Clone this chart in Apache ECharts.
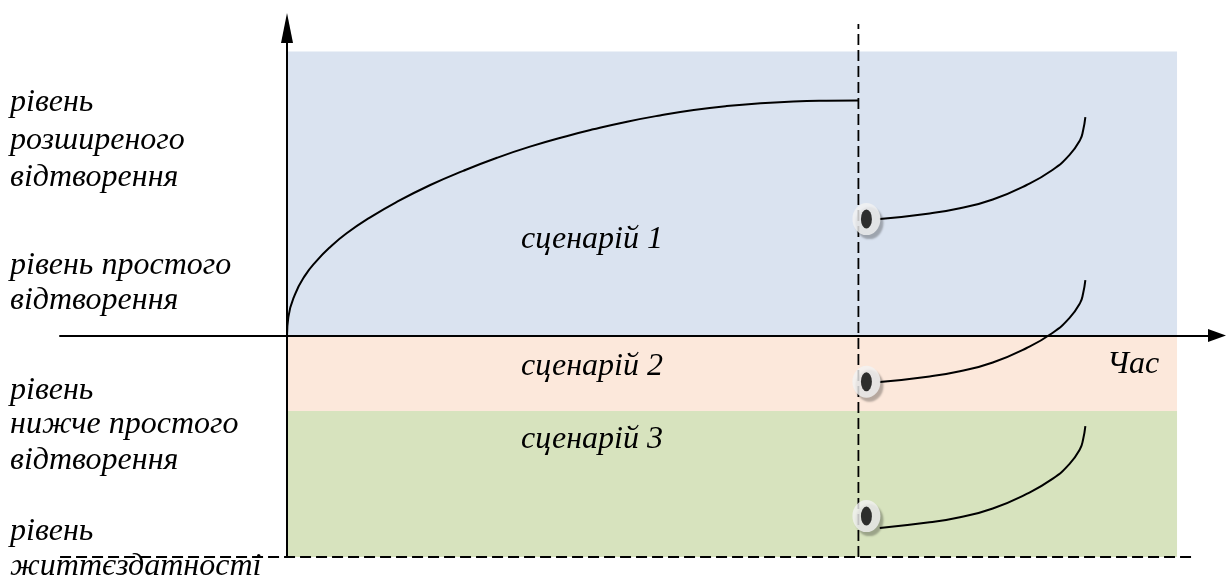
<!DOCTYPE html>
<html>
<head>
<meta charset="utf-8">
<script src="https://cdn.jsdelivr.net/npm/echarts@6/dist/echarts.min.js"></script>
<style>
  html, body { margin: 0; padding: 0; background: #fff; }
  #chart { width: 1226px; height: 581px; }
</style>
</head>
<body>
<div id="chart"></div>
<script>
// рівні (вісь Y) та час (вісь X), умовні одиниці
const bandNames = ['сценарій 1', 'сценарій 2', 'сценарій 3'];
const bandTop = [100, 0, -26.6];
const bandBottom = [0, -26.6, -78];
const bandColors = ['#DAE3F0', '#FCE8DB', '#D7E3BE'];
const bandEnd = 100;

const cutoffTime = 64.2;      // вертикальна пунктирна лінія
const floorLevel = -78;       // рівень життєздатності

// крива розвитку до моменту розриву
const mainTime = [0, 0.15, 0.9, 2.0, 3.3, 4.8, 6.7, 9.3, 12.3, 16.1, 19.8, 23.6, 27.3, 31.4,
  34.4, 38.2, 41.9, 45.7, 49.4, 53.2, 56.9, 60.6, 64.2];
const mainLevel = [0, 6.5, 14.5, 21.0, 26.2, 31.0, 36.0, 41.5, 47.0, 53.0, 58.0, 62.6, 66.5, 70.2,
  72.6, 75.3, 77.5, 79.4, 80.8, 81.8, 82.4, 82.7, 82.8];

// криві сценаріїв після розриву
const scenTime = [66.6, 72.2, 75.6, 79.3, 83.1, 86.0, 87.9, 89.1, 89.45, 89.7];
const scen1Level = [41.0, 43.0, 44.8, 47.9, 53.0, 58.3, 63.5, 68.8, 72.3, 76.9];
const scen2Level = [-16.4, -14.4, -12.6, -9.5, -4.4, 0.9, 6.1, 11.4, 14.9, 19.5];
const scen3Level = [-67.8, -65.8, -64.0, -60.9, -55.8, -50.5, -45.3, -40.0, -36.5, -31.9];

// точки розриву
const breakTime = [65.1, 65.1, 65.1];
const breakLevel = [41.0, -16.3, -63.6];

const leftLabels = [
  ['рівень', 103], ['розширеного', 141], ['відтворення', 178],
  ['рівень простого', 266], ['відтворення', 301],
  ['рівень', 391], ['нижче простого', 425], ['відтворення', 461],
  ['рівень', 532], ['життєздатності', 567]
];
const sceneLabelY = [240, 367, 440];

const zip = (xs, ys) => xs.map((x, i) => [x, ys[i]]);
const font = { fontFamily: 'Liberation Serif', fontStyle: 'italic', fontSize: 32, fill: '#000' };

const chart = echarts.init(document.getElementById('chart'), null, { renderer: 'canvas' });

const curveStyle = { color: '#000', width: 2 };
const dashStyle = { color: '#000', width: 1.8, type: [11, 5] };

const textEl = (t, x, y) => ({
  type: 'text', x: x, y: y, z: 100,
  style: Object.assign({ text: t, verticalAlign: 'middle' }, font)
});
const graphics = leftLabels.map(([t, y]) => textEl(t, 10, y));
bandNames.forEach((n, i) => graphics.push(textEl(n, 521, sceneLabelY[i])));
graphics.push(textEl('Час', 1107, 365));

chart.setOption({
  animation: false,
  grid: { left: 60, right: 9, top: 28, bottom: 24 },
  xAxis: {
    type: 'value', min: -25.506, max: 104.49, z: 5,
    axisLine: { onZero: true, symbol: ['none', 'triangle'], symbolSize: [13, 18], lineStyle: { color: '#000', width: 2 } },
    axisTick: { show: false }, axisLabel: { show: false }, splitLine: { show: false }
  },
  yAxis: {
    type: 'value', min: floorLevel, max: 108.29, z: 5,
    axisLine: { onZero: true, symbol: ['none', 'triangle'], symbolSize: [12, 30], lineStyle: { color: '#000', width: 2 } },
    axisTick: { show: false }, axisLabel: { show: false }, splitLine: { show: false }
  },
  graphic: graphics,
  series: [
    {
      type: 'line', data: [], z: 1,
      markArea: {
        silent: true,
        data: bandNames.map((n, i) => [
          { xAxis: 0, yAxis: bandTop[i], itemStyle: { color: bandColors[i] } },
          { xAxis: bandEnd, yAxis: bandBottom[i] }
        ])
      }
    },
    {
      type: 'line', data: [[cutoffTime, floorLevel], [cutoffTime, 109.7]],
      showSymbol: false, clip: false, lineStyle: dashStyle, z: 3
    },
    {
      type: 'line', data: [[-25.5, floorLevel], [102, floorLevel]],
      showSymbol: false, clip: false, lineStyle: dashStyle, z: 3
    },
    {
      type: 'line', data: zip(mainTime, mainLevel), smooth: 0.5,
      showSymbol: false, lineStyle: curveStyle, z: 4
    },
    ...[scen1Level, scen2Level, scen3Level].map(lv => ({
      type: 'line', data: zip(scenTime, lv), smooth: 0.5,
      showSymbol: false, lineStyle: curveStyle, z: 4, clip: false
    })),
    {
      type: 'scatter', data: zip(breakTime, breakLevel), symbolSize: [28, 32], z: 6,
      itemStyle: { color: '#F2F2F2', shadowColor: 'rgba(0,0,0,0.35)', shadowBlur: 2, shadowOffsetX: 3, shadowOffsetY: 4 }
    },
    {
      type: 'scatter', data: zip(breakTime, breakLevel), symbolSize: [11, 19], z: 7,
      itemStyle: { color: '#000' }
    }
  ]
});
</script>
</body>
</html>
